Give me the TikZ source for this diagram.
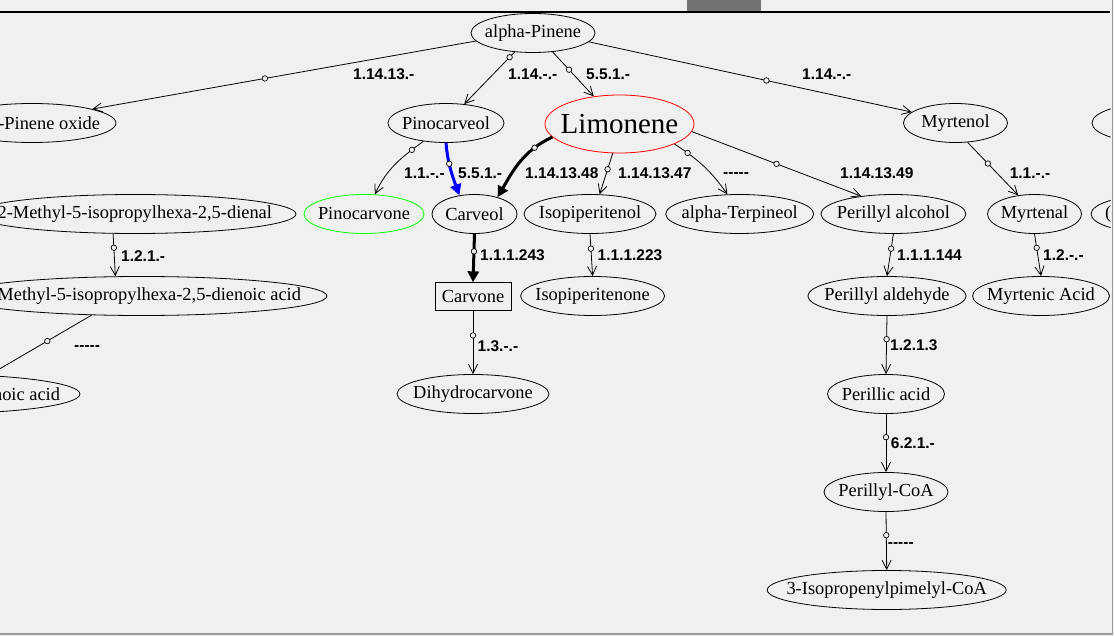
\documentclass[tikz,border=0pt]{standalone}
\usepackage{fontspec}
\setmainfont{Liberation Serif}
\newfontfamily\LabFamily{Liberation Sans}
\usetikzlibrary{shapes.geometric,arrows.meta}
\definecolor{bg}{HTML}{F0F0F0}
\definecolor{framegray}{HTML}{9A9A9A}
\definecolor{nodegreen}{HTML}{00FF00}
\definecolor{pathblue}{HTML}{0000FF}
\newcommand{\NodeFont}{\fontsize{18.4}{21}\selectfont}
\newcommand{\BigFont}{\fontsize{29}{32}\selectfont}
\newcommand{\LabFont}{\LabFamily\bfseries\fontsize{15.5}{17}\selectfont}
\begin{document}
\begin{tikzpicture}[x=1pt,y=-1pt,
  ell/.style={ellipse, draw=black, line width=0.8pt, inner sep=-300pt, minimum height=39pt, font=\NodeFont},
  rbox/.style={rectangle, draw=black, line width=0.8pt, inner sep=0pt, minimum width=76pt, minimum height=27.5pt, font=\NodeFont},
  rxn/.style={draw=black, line width=0.8pt, -{Straight Barb[length=9pt,width=9pt]}},
  thickrxn/.style={draw=black, line width=3pt, -{Triangle[length=11pt,width=11pt]}},
  bluerxn/.style={draw=pathblue, line width=3pt, -{Triangle[length=11pt,width=11pt]}},
  circ/.style={circle, draw=black, fill=bg, line width=0.7pt, inner sep=0pt, minimum size=5.5pt},
  lab/.style={anchor=west, inner sep=0pt, text height=11pt, text depth=0pt, font=\LabFont}
]
\useasboundingbox (0,0) rectangle (1114,636);
\fill[bg] (0,0) rectangle (1114,636);
\begin{scope}
\clip (0,12) rectangle (1110.5,633);
% nodes
\node[ell, minimum width=124pt] (alpha) at (533,33) {alpha-Pinene};
\node[ell, minimum width=168pt] (pinox) at (32,123) {\makebox[136pt][r]{-Pinene oxide}};
\node[ell, minimum width=116pt] (pinocarveol) at (446,123) {Pinocarveol};
\node[ell, draw=red, minimum width=149pt, minimum height=58pt, font=\BigFont] (limonene) at (619.5,124) {Limonene};
\node[ell, minimum width=104pt] (myrtenol) at (955.5,123) {Myrtenol};
\node[ell, minimum width=120pt] (rpa) at (1152,123) {};
\node[ell, minimum width=322pt] (dienal) at (135,214) {\makebox[274pt][r]{2-Methyl-5-isopropylhexa-2,5-dienal}};
\node[ell, draw=nodegreen, minimum width=120pt] (pinocarvone) at (364,214) {Pinocarvone};
\node[ell, minimum width=85pt] (carveol) at (474.5,214) {Carveol};
\node[ell, minimum width=132pt] (isopiperitenol) at (590,214) {Isopiperitenol};
\node[ell, minimum width=148pt] (terpineol) at (739.7,214) {alpha-Terpineol};
\node[ell, minimum width=145pt] (perillylalc) at (893.4,214) {Perillyl alcohol};
\node[ell, minimum width=94pt] (myrtenal) at (1034.5,214) {Myrtenal};
\node[ell, minimum width=138pt] (rpb) at (1160,214) {\makebox[110pt][l]{(}};
\node[ell, minimum width=371pt] (dienoic) at (141.5,296) {\makebox[319pt][r]{Methyl-5-isopropylhexa-2,5-dienoic acid}};
\node[rbox] (carvone) at (473,296.5) {Carvone};
\node[ell, minimum width=144pt] (isopiperitenone) at (592.6,296) {Isopiperitenone};
\node[ell, minimum width=158pt] (perillylald) at (887,296) {Perillyl aldehyde};
\node[ell, minimum width=137pt] (myrtenic) at (1041,296) {Myrtenic Acid};
\node[ell, minimum width=280pt] (noic) at (-60,394) {\makebox[240pt][r]{noic acid}};
\node[ell, minimum width=152pt] (dihydro) at (473,394) {Dihydrocarvone};
\node[ell, minimum width=117pt] (perillic) at (886,394) {Perillic acid};
\node[ell, minimum width=124pt] (perillylcoa) at (886,492) {Perillyl-CoA};
\node[ell, minimum width=239pt] (ipcoa) at (886.7,590) {3-Isopropenylpimelyl-CoA};
% edges
\draw[rxn] (alpha.188) -- node[circ,pos=.55]{} (pinox.13);
\draw[rxn] (alpha.226) -- node[circ,pos=.1]{} (pinocarveol.46);
\draw[rxn] (alpha.316) -- node[circ,pos=.4]{} (limonene.133);
\draw[rxn] (alpha.351) -- node[circ,pos=.55]{} (myrtenol.166);
\draw[rxn] (pinocarveol.219) to[out=216,in=65] node[circ,pos=.18]{} (pinocarvone.61);
\draw[bluerxn] (pinocarveol.270) to[out=275,in=110] node[circ,pos=.38]{} (carveol.129);
\draw[thickrxn] (limonene.191) to[out=205,in=60] node[circ,pos=.24]{} (carveol.36);
\draw[rxn] (limonene.257) -- node[circ,pos=.39]{} (isopiperitenol.64);
\draw[rxn] (limonene.340) to[out=327,in=125] node[circ,pos=.2]{} (terpineol.122);
\draw[rxn] (limonene.354) -- node[circ,pos=.5]{} (perillylalc.151);
\draw[rxn] (myrtenol.302) -- node[circ,pos=.4]{} (myrtenal.131);
\draw[rxn] (dienal.222) -- node[circ,pos=.33]{} (dienoic.143);
\draw[thickrxn] (carveol.south) -- node[circ,pos=.36]{} (carvone.north);
\draw[rxn] (isopiperitenol.south) -- node[circ,pos=.35]{} (isopiperitenone.north);
\draw[rxn] (perillylalc.south) -- node[circ,pos=.35]{} (perillylald.north);
\draw[rxn] (myrtenal.south) -- node[circ,pos=.33]{} (myrtenic.north);
\draw[rxn] (dienoic.201) -- node[circ,pos=.43]{} (noic.21);
\draw[rxn] (carvone.south) -- node[circ,pos=.39]{} (dihydro.north);
\draw[rxn] (perillylald.south) -- node[circ,pos=.4]{} (perillic.north);
\draw[rxn] (perillic.south) -- node[circ,pos=.4]{} (perillylcoa.north);
\draw[rxn] (perillylcoa.south) -- node[circ,pos=.4]{} (ipcoa.north);
% labels
\node[lab] (l1) at (353,74) {1.14.13.-};
\node[lab] (l2) at (508,74) {1.14.-.-};
\node[lab] (l3) at (586,74) {5.5.1.-};
\node[lab] (l4) at (802,74) {1.14.-.-};
\node[lab] (l5) at (404,173) {1.1.-.-};
\node[lab] (l6) at (458,173) {5.5.1.-};
\node[lab] (l7) at (525,173) {1.14.13.48};
\node[lab] (l8) at (618,173) {1.14.13.47};
\node[lab] (l9) at (723,172) {-----};
\node[lab] (l10) at (840,173) {1.14.13.49};
\node[lab] (l11) at (1009.6,173) {1.1.-.-};
\node[lab] (l12) at (121,256) {1.2.1.-};
\node[lab] (l13) at (480,255) {1.1.1.243};
\node[lab] (l14) at (597.5,255) {1.1.1.223};
\node[lab] (l15) at (897,255) {1.1.1.144};
\node[lab] (l16) at (1043,255) {1.2.-.-};
\node[lab] (l17) at (74,345) {-----};
\node[lab] (l18) at (477.5,346) {1.3.-.-};
\node[lab] (l19) at (890,345) {1.2.1.3};
\node[lab] (l20) at (890.7,443) {6.2.1.-};
\node[lab] (l21) at (887.7,541.7) {-----};
\end{scope}
% window frame
\draw[line width=1.6pt] (0,12.3) -- (1110,12.3);
\fill[black!55] (687,0) rectangle (761,10.7);
\fill[framegray] (1111.5,0) rectangle (1113.3,635);
\fill[framegray] (0,633.2) rectangle (1113.3,635);
\end{tikzpicture}
\end{document}
